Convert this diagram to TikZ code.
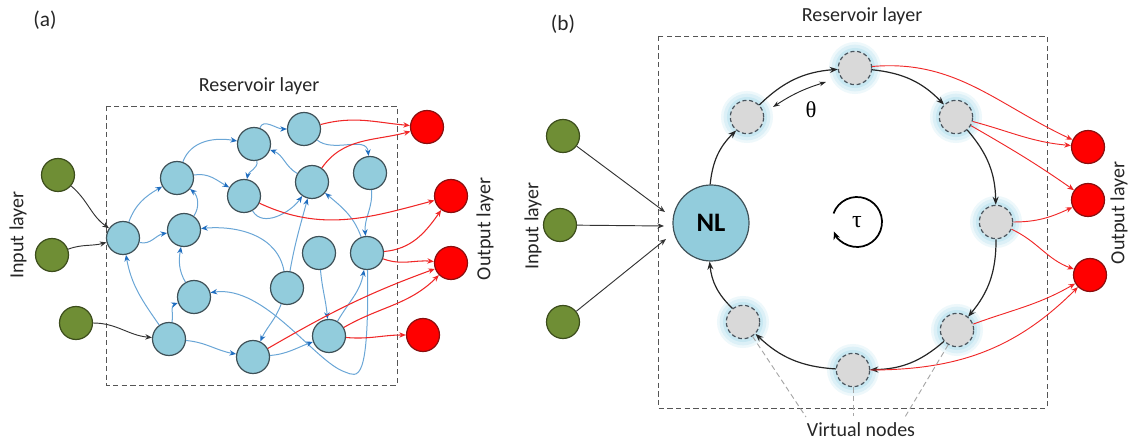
\documentclass[tikz,border=0pt]{standalone}
\usepackage{fontspec}
\setmainfont{Carlito}
\newfontfamily\grk{Liberation Serif}
\usetikzlibrary{arrows.meta}
\definecolor{bfill}{HTML}{92CCDC}
\definecolor{nbord}{HTML}{3F5158}
\definecolor{gfill}{HTML}{6F8E35}
\definecolor{gbord}{HTML}{3C4D1C}
\definecolor{rfill}{HTML}{FF0000}
\definecolor{rbord}{HTML}{8A0F0F}
\definecolor{vfill}{HTML}{D9D9D9}
\definecolor{vbord}{HTML}{4A555E}
\definecolor{glowA}{HTML}{EEF8FB}
\definecolor{glowB}{HTML}{DCF0F7}
\definecolor{glowC}{HTML}{C8E8F2}
\definecolor{bline}{HTML}{6AA6D6}
\definecolor{btip}{HTML}{1F6DBF}
\definecolor{rline}{HTML}{F02828}
\definecolor{boxc}{HTML}{555555}
\begin{document}
\begin{tikzpicture}[x=0.75pt,y=-0.75pt,
  lbl/.style={font=\fontsize{15}{18}\selectfont, text=black!85, inner sep=0},
  bnode/.style={circle, fill=bfill, draw=nbord, line width=0.9pt, minimum size=24.75pt, inner sep=0},
  gnode/.style={circle, fill=gfill, draw=gbord, line width=0.9pt, minimum size=24.75pt, inner sep=0},
  rnode/.style={circle, fill=rfill, draw=rbord, line width=0.9pt, minimum size=24.75pt, inner sep=0},
  vnode/.style={circle, fill=vfill, draw=vbord, line width=0.9pt, dash pattern=on 3pt off 2pt, minimum size=25pt, inner sep=0,
     preaction={draw=glowA, line width=14pt, solid},
     preaction={draw=glowB, line width=10pt, solid},
     preaction={draw=glowC, line width=5pt, solid}},
  nlnode/.style={circle, fill=bfill, draw=nbord, line width=0.9pt, minimum size=57pt, inner sep=0, font=\fontsize{20}{22}\selectfont\bfseries},
  bedge/.style={draw=bline, line width=0.75pt, -{Stealth[length=5pt,width=4pt,color=btip]}},
  redge/.style={draw=rline, line width=0.8pt, -{Stealth[length=5pt,width=4pt]}},
  iedge/.style={draw=black!80, line width=0.7pt, -{Stealth[length=5pt,width=4pt]}},
  ring/.style={draw=black!85, line width=0.9pt, -{Stealth[length=6pt,width=4.5pt]}},
  boxst/.style={draw=boxc, line width=0.7pt, dash pattern=on 4pt off 2.5pt},
  vline/.style={draw=black!35, line width=0.7pt, dash pattern=on 4pt off 2.5pt}]
\useasboundingbox (0,0) rectangle (1128,441);

% ---------------- panel (a) ----------------
\node[lbl, font=\fontsize{16}{18}\selectfont] (la) at (45,20) {(a)};
\node[lbl] (resa) at (259,86) {Reservoir layer};
\node[lbl, rotate=90] (ina) at (18,235) {Input layer};
\node[lbl, rotate=90] (outa) at (485,229) {Output layer};
\draw[boxst] (106,106) rectangle (397,385);

\node[gnode] (G1) at (58,175) {};
\node[gnode] (G2) at (52,255) {};
\node[gnode] (G3) at (76,323) {};

\node[bnode] (B1) at (123,238) {};
\node[bnode] (B2) at (177,178) {};
\node[bnode] (B3) at (184,230) {};
\node[bnode] (B4) at (194,297) {};
\node[bnode] (B5) at (169,339) {};
\node[bnode] (B6) at (254,144) {};
\node[bnode] (B7) at (244,196) {};
\node[bnode] (B8) at (304,129) {};
\node[bnode] (B9) at (312,182) {};
\node[bnode] (B10) at (370,173) {};
\node[bnode] (B11) at (287,288) {};
\node[bnode] (B12) at (319,253) {};
\node[bnode] (B13) at (367,253) {};
\node[bnode] (B14) at (253,357) {};
\node[bnode] (B15) at (329,336) {};

\node[rnode] (R1) at (427,127) {};
\node[rnode] (R2) at (451,196) {};
\node[rnode] (R3) at (451,263) {};
\node[rnode] (R4) at (423,335) {};

\draw[iedge] (G1) to[out=-40,in=145] (B1);
\draw[iedge] (G2) to[out=20,in=195] (B1);
\draw[iedge] (G3) to[out=0,in=175] (B5);

\coordinate (k1) at (345,372);
\draw[bedge] (B1) to[out=70,in=210] (B2);
\draw[bedge] (B1) to[out=-15,in=190] (B3);
\draw[bedge] (B2) to[out=70,in=170] (B6);
\draw[bedge] (B2) to[out=10,in=150] (B7);
\draw[bedge] (B3) to[out=55,in=-40] (B2);
\draw[bedge] (B4) to[out=120,in=-100] (B3);
\draw[bedge] (B5) to[out=125,in=-80] (B1);
\draw[bedge] (B5) to[out=80,in=200] (B4);
\draw[bedge] (B5) to[out=-5,in=170] (B14);
\draw[bedge] (B11) to[out=100,in=5] (B3);
\draw[bedge] (B13.-88) .. controls (369,385) and (358,377) .. (k1) .. controls (315,362) and (265,285) .. (B4.15);
\draw[bedge] (B11) to[out=80,in=-105] (B9);
\draw[bedge] (B11) to[out=-110,in=65] (B14);
\draw[bedge] (B12) to[out=-85,in=95] (B15);
\draw[bedge] (B14) to[out=5,in=200] (B15);
\draw[bedge] (B15) to[out=60,in=-100] (B13);
\draw[bedge] (B13) to[out=110,in=-40] (B9);
\draw[bedge] (B10) to[out=-85,in=95] (B13);
\draw[bedge] (B8) to[out=-40,in=95] (B10);
\draw[bedge] (B9) to[out=150,in=-20] (B6);
\draw[bedge] (B6) to[out=-80,in=80] (B7);
\draw[bedge] (B7) to[out=-60,in=-125] (B9);
\draw[bedge] (B6) to[out=70,in=180] (B8);

\draw[redge] (B8) to[out=15,in=175] (R1);
\draw[redge] (B9) to[out=55,in=195] (R1);
\draw[redge] (B7) to[out=-25,in=195] (R2);
\draw[redge] (B13) to[out=5,in=235] (R2);
\draw[redge] (B13) to[out=-20,in=175] (R3);
\draw[redge] (B14) to[out=30,in=200] (R3);
\draw[redge] (B15) to[out=30,in=225] (R3);
\draw[redge] (B15) to[out=-5,in=180] (R4);

% ---------------- panel (b) ----------------
\node[lbl, font=\fontsize{16}{18}\selectfont] (lb) at (563,24) {(b)};
\node[lbl] (resb) at (862,16) {Reservoir layer};
\node[lbl, rotate=90] (inb) at (533,226) {Input layer};
\node[lbl, rotate=90] (outb) at (1119,213) {Output layer};
\node[lbl] (vn) at (861,430) {Virtual nodes};
\draw[boxst] (658,36) rectangle (1047,408);

\node[gnode] (IG1) at (563,136) {};
\node[gnode] (IG2) at (560,225) {};
\node[gnode] (IG3) at (563,322) {};
\coordinate (in1) at (665,212);
\coordinate (in2) at (664,226);
\coordinate (in3) at (666,239);
\draw[iedge] (IG1) -- (in1);
\draw[iedge] (IG2) -- (in2);
\draw[iedge] (IG3) -- (in3);

\node[nlnode] (NL) at (711,223) {NL};
\node[vnode] (V1) at (747,117) {};
\node[vnode] (V2) at (855,68) {};
\node[vnode] (V3) at (956,117) {};
\node[vnode] (V4) at (996,222) {};
\node[vnode] (V5) at (957,330) {};
\node[vnode] (V6) at (853,370) {};
\node[vnode] (V7) at (743,322) {};

\node[rnode] (O1) at (1088,147) {};
\node[rnode] (O2) at (1088,200) {};
\node[rnode] (O3) at (1090,275) {};

\draw[ring] (NL) to[bend left=20] (V1);
\draw[ring] (V1) to[bend left=20] (V2);
\draw[ring] (V2) to[bend left=20] (V3);
\draw[ring] (V3) to[bend left=20] (V4);
\draw[ring] (V4) to[bend left=20] (V5);
\draw[ring] (V5) to[bend left=20] (V6);
\draw[ring] (V6) to[bend left=20] (V7);
\draw[ring] (V7) to[bend left=20] (NL);

\coordinate (th1) at (773,107);
\coordinate (th2) at (826,82);
\draw[draw=black!85, line width=0.7pt, {Stealth[length=5pt,width=3.5pt]}-{Stealth[length=5pt,width=3.5pt]}] (th1) to[bend left=8] (th2);
\node[inner sep=0, font=\grk\fontsize{17}{18}\selectfont] (theta) at (811,110) {θ};

\node[inner sep=0, font=\grk\fontsize{18}{20}\selectfont] (tau) at (857,222) {τ};
\draw[draw=black, line width=1.3pt, -{Stealth[length=6pt,width=5pt]}] ([shift={(160:18.75pt)}]tau.center) arc[start angle=160, end angle=-158, radius=18.75pt];

\draw[redge, line width=0.7pt] (V2) to[out=5,in=155] (O1);
\draw[redge, line width=0.7pt] (V3) to[out=-15,in=175] (O1);
\draw[redge, line width=0.7pt] (V3) to[out=-30,in=145] (O2);
\draw[redge, line width=0.7pt] (V4) to[out=0,in=205] (O2);
\draw[redge, line width=0.7pt] (V4) to[out=-25,in=160] (O3);
\draw[redge, line width=0.7pt] (V5) to[out=20,in=210] (O3);
\draw[redge, line width=0.7pt] (V6) to[out=0,in=225] (O3);

\coordinate (vl1) at (806,417);
\coordinate (vl2) at (853,416);
\coordinate (vl3) at (905,417);
\draw[vline] (V7) -- (vl1);
\draw[vline] (V6) -- (vl2);
\draw[vline] (V5) -- (vl3);
\end{tikzpicture}
\end{document}
